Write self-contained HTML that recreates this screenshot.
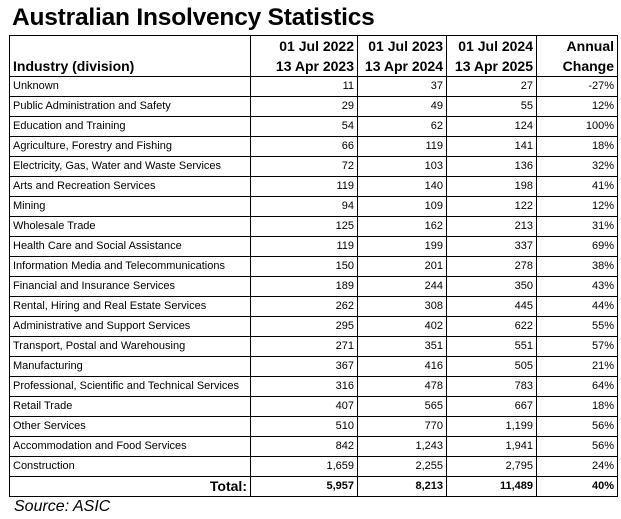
<!DOCTYPE html>
<html><head><meta charset="utf-8"><style>
html,body{margin:0;padding:0;background:#fff;width:621px;height:519px;overflow:hidden;font-family:"Liberation Sans",Arial,sans-serif;}
#title{position:absolute;left:12px;top:4px;font-size:24.5px;font-weight:bold;color:#000;letter-spacing:-0.2px;}
table{position:absolute;left:9px;top:35px;border-collapse:collapse;table-layout:fixed;}
td,th{border:1px solid #000;padding:0 3px;font-size:11px;height:19px;line-height:19px;white-space:nowrap;overflow:hidden;}
th{font-size:14px;font-weight:bold;height:40px;line-height:20px;text-align:right;vertical-align:bottom;}
th.l{text-align:left;}
td.n{text-align:right;}
tr.total td{font-weight:bold;}
tr.total td.lab{font-size:14px;text-align:right;}
#source{position:absolute;left:14px;top:498px;font-size:16px;font-style:italic;}
</style></head><body>
<div id="title">Australian Insolvency Statistics</div>
<table id="tbl">
<colgroup><col style="width:241px"><col style="width:107px"><col style="width:89px"><col style="width:90px"><col style="width:81px"></colgroup>
<thead><tr>
<th class="l">Industry (division)</th>
<th>01 Jul 2022<br>13 Apr 2023</th>
<th>01 Jul 2023<br>13 Apr 2024</th>
<th>01 Jul 2024<br>13 Apr 2025</th>
<th>Annual<br>Change</th>
</tr></thead>
<tbody id="body"></tbody>
</table>
<div id="source">Source: ASIC</div>
<script>
const industries=["Unknown","Public Administration and Safety","Education and Training","Agriculture, Forestry and Fishing","Electricity, Gas, Water and Waste Services","Arts and Recreation Services","Mining","Wholesale Trade","Health Care and Social Assistance","Information Media and Telecommunications","Financial and Insurance Services","Rental, Hiring and Real Estate Services","Administrative and Support Services","Transport, Postal and Warehousing","Manufacturing","Professional, Scientific and Technical Services","Retail Trade","Other Services","Accommodation and Food Services","Construction"];
const y2023=[11,29,54,66,72,119,94,125,119,150,189,262,295,271,367,316,407,510,842,1659];
const y2024=[37,49,62,119,103,140,109,162,199,201,244,308,402,351,416,478,565,770,1243,2255];
const y2025=[27,55,124,141,136,198,122,213,337,278,350,445,622,551,505,783,667,1199,1941,2795];
const change=["-27%","12%","100%","18%","32%","41%","12%","31%","69%","38%","43%","44%","55%","57%","21%","64%","18%","56%","56%","24%"];
const totals=[5957,8213,11489];
const totalChange="40%";
const fmt=v=>v.toLocaleString("en-US");
const body=document.getElementById("body");
function cell(tr,text,cls,name){const td=document.createElement("td");td.textContent=text;if(cls)td.className=cls;


tr.appendChild(td);}
industries.forEach((ind,i)=>{const tr=document.createElement("tr");


cell(tr,ind,"","industry-name");cell(tr,fmt(y2023[i]),"n","value-2023");cell(tr,fmt(y2024[i]),"n","value-2024");cell(tr,fmt(y2025[i]),"n","value-2025");cell(tr,change[i],"n","annual-change");body.appendChild(tr);});
const tr=document.createElement("tr");tr.className="total";


cell(tr,"Total:","lab","total-label");cell(tr,fmt(totals[0]),"n","total-2023");cell(tr,fmt(totals[1]),"n","total-2024");cell(tr,fmt(totals[2]),"n","total-2025");cell(tr,totalChange,"n","total-change");body.appendChild(tr);
</script>
</body></html>
